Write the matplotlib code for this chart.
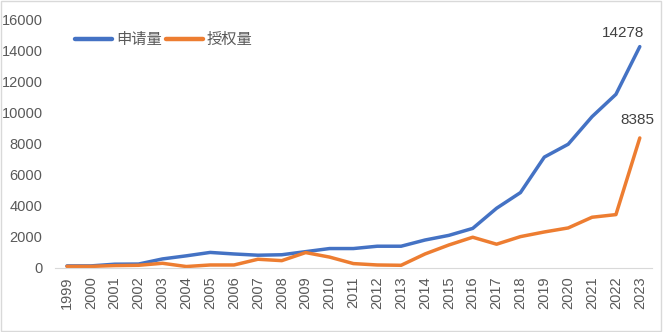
import numpy as np
import matplotlib
matplotlib.use('Agg')
from matplotlib import pyplot as plt
from matplotlib.patches import Rectangle

plt.rcParams['font.family'] = ['Liberation Sans', 'Noto Sans CJK SC', 'DejaVu Sans']

years = list(range(1999, 2024))
applications = [130, 130, 240, 250, 580, 780, 1000, 900, 820, 850, 1050, 1250,
                1250, 1400, 1400, 1800, 2100, 2550, 3850, 4860, 7150, 7980, 9760,
                11200, 14278]
grants = [100, 100, 150, 170, 300, 90, 190, 190, 560, 470, 990, 700,
          280, 190, 170, 900, 1480, 1980, 1530, 2020, 2320, 2580, 3270,
          3440, 8385]

blue = '#4472C4'
orange = '#ED7D31'
grey = '#595959'

fig = plt.figure(figsize=(6.63, 3.32), dpi=100)
ax = fig.add_axes([0.083, 0.193, 0.9, 0.747])

x = np.arange(len(years))
ax.plot(x, applications, color=blue, lw=2.5, solid_capstyle='round', label='申请量')
ax.plot(x, grants, color=orange, lw=2.5, solid_capstyle='round', label='授权量')

# label the final values
ax.annotate(str(applications[-1]), (x[-1], applications[-1]), xytext=(-12, 5),
            textcoords='offset points', ha='center', va='bottom', fontsize=11, color='#404040')
ax.annotate(str(grants[-1]), (x[-1], grants[-1]), xytext=(-2, 8),
            textcoords='offset points', ha='center', va='bottom', fontsize=11, color='#404040')

ax.set_xlim(-0.5, len(years) - 0.5)
ax.set_ylim(0, 16000)
ax.set_yticks(range(0, 16001, 2000))
ax.set_xticks(x)
ax.set_xticklabels([str(y) for y in years], rotation=90)
ax.tick_params(axis='both', length=0, labelsize=10.5, labelcolor=grey)
ax.tick_params(axis='x', pad=6)
ax.tick_params(axis='y', pad=9)
for side in ['top', 'right', 'left']:
    ax.spines[side].set_visible(False)
ax.spines['bottom'].set_color('#D9D9D9')

leg = ax.legend(loc='upper left', bbox_to_anchor=(0.011, 1.01), ncol=2, frameon=False,
                handlelength=2.4, handletextpad=0.25, columnspacing=0.3,
                prop={'family': ['Noto Sans CJK SC', 'DejaVu Sans'], 'size': 11})
for txt in leg.get_texts():
    txt.set_color(grey)
for line in leg.get_lines():
    line.set_linewidth(3.2)

# light frame round the whole chart
fig.patches.append(Rectangle((0.002, 0.003), 0.995, 0.993, transform=fig.transFigure,
                             fill=False, edgecolor='#D9D9D9', lw=1))

fig.savefig('out.png', dpi=100)
